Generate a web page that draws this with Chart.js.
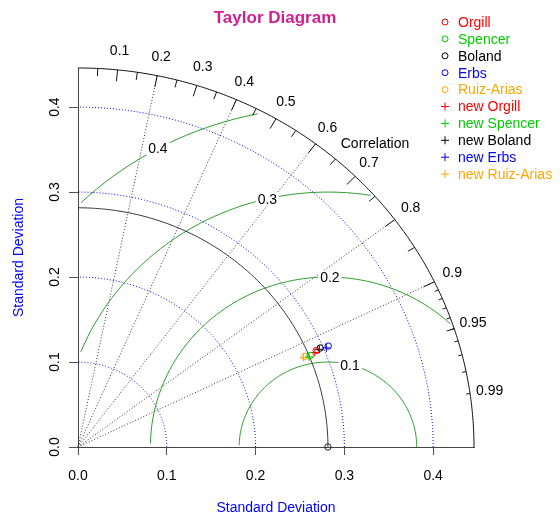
<!DOCTYPE html>
<html><head><meta charset="utf-8">
<script src="https://cdn.jsdelivr.net/npm/chart.js@4"></script>
<style>html,body{margin:0;padding:0;background:#fff}</style>
</head><body>
<canvas id="c" width="560" height="518"></canvas>
<script>
// ---- data ----
const MAXSD = 0.446;          // outer radius of the diagram
const REF_SD = 0.2815;        // standard deviation of the observations
const tickValues = [0, 0.1, 0.2, 0.3, 0.4];
const tickLabels = ['0.0', '0.1', '0.2', '0.3', '0.4'];
const corrLabels = [0.1, 0.2, 0.3, 0.4, 0.5, 0.6, 0.7, 0.8, 0.9, 0.95, 0.99];
const corrLines = [0.2, 0.4, 0.6, 0.8, 0.9];
const sdArcs = [0.1, 0.2, 0.3, 0.4];
const rmsContours = [0.1, 0.2, 0.3, 0.4];
const models = ['Orgill', 'Spencer', 'Boland', 'Erbs', 'Ruiz-Arias'];
const newModels = ['new Orgill', 'new Spencer', 'new Boland', 'new Erbs', 'new Ruiz-Arias'];
const modelColors = ['#ff0000', '#00cd00', '#000000', '#0000ff', '#ffa500'];
const oldSd = [0.2913, 0.2829, 0.2966, 0.3058, 0.2767];
const oldCor = [0.9210, 0.9247, 0.9197, 0.9215, 0.9230];
const newSd = [0.2890, 0.2810, 0.2950, 0.3030, 0.2750];
const newCor = [0.9230, 0.9260, 0.9210, 0.9230, 0.9240];

const FONT = '"Liberation Sans", Arial, Helvetica, sans-serif';

function polar(sd, cor) { return {x: sd * cor, y: sd * Math.sqrt(1 - cor * cor)}; }

const datasets = [];
models.forEach((m, i) => datasets.push({
  label: m, data: [polar(oldSd[i], oldCor[i])], pointStyle: 'circle', pointRadius: 3.2,
  borderColor: modelColors[i], backgroundColor: 'rgba(0,0,0,0)', pointBorderWidth: 1, showLine: false
}));
newModels.forEach((m, i) => datasets.push({
  label: m, data: [polar(newSd[i], newCor[i])], pointStyle: 'cross', pointRadius: 4,
  borderColor: modelColors[i], backgroundColor: modelColors[i], pointBorderWidth: 1, showLine: false
}));
datasets.push({
  label: 'reference', data: [{x: REF_SD, y: 0}], pointStyle: 'circle', pointRadius: 3.2,
  borderColor: '#222', backgroundColor: 'rgba(0,0,0,0)', pointBorderWidth: 1, clip: false
});

const taylorPlugin = {
  id: 'taylor',
  beforeDatasetsDraw(chart) {
    const ctx = chart.ctx, xs = chart.scales.x, ys = chart.scales.y;
    const P = (x, y) => [xs.getPixelForValue(x), ys.getPixelForValue(y)];
    const path = pts => { ctx.beginPath(); pts.forEach((p, k) => { const q = P(p[0], p[1]); k ? ctx.lineTo(q[0], q[1]) : ctx.moveTo(q[0], q[1]); }); ctx.stroke(); };
    const arc = (cx, r, a0, a1) => { const pts = []; const n = 200; for (let k = 0; k <= n; k++) { const a = a0 + (a1 - a0) * k / n; pts.push([cx + r * Math.cos(a), r * Math.sin(a)]); } path(pts); };
    ctx.save();
    ctx.lineWidth = 1;
    // correlation lines
    ctx.strokeStyle = '#333'; ctx.setLineDash([1, 2]);
    corrLines.forEach(c => path([[0, 0], [MAXSD * c, MAXSD * Math.sqrt(1 - c * c)]]));
    // sd arcs
    ctx.strokeStyle = '#0000ff'; ctx.setLineDash([1, 2]);
    sdArcs.forEach(r => arc(0, r, 0, Math.PI / 2));
    ctx.setLineDash([]);
    // rms contours
    const angles = []; for (let k = 0; k < 105; k++) angles.push(k * 0.03);
    const labelpos = [45, 53, 61, 70];
    ctx.strokeStyle = '#2e9e2e';
    const gammaLabels = [];
    rmsContours.forEach((g, gi) => {
      const xc = angles.map(a => Math.cos(a) * g + REF_SD);
      const yc = angles.map(a => Math.sin(a) * g);
      let end = xc.findIndex(v => v < 0); end = end >= 0 ? end - 1 : 104;
      let start = 0;
      for (let k = 0; k < xc.length; k++) if (xc[k] * xc[k] + yc[k] * yc[k] > MAXSD * MAXSD) start = k + 1;
      const pts = []; for (let k = start; k <= end; k++) pts.push([xc[k], yc[k]]);
      path(pts);
      const li = labelpos[gi] - 1;
      if (xc[li] > 0) gammaLabels.push([xc[li], yc[li], String(g)]);
    });
    ctx.font = '14px ' + FONT; ctx.textAlign = 'center'; ctx.textBaseline = 'middle';
    gammaLabels.forEach(([x, y, t]) => {
      const q = P(x, y); const w = ctx.measureText(t).width * 1.2, h = 13;
      ctx.fillStyle = '#fff'; ctx.fillRect(q[0] - w / 2, q[1] - h / 2, w, h);
      ctx.fillStyle = '#000'; ctx.fillText(t, q[0], q[1] + 1);
    });
    // reference sd arc
    ctx.strokeStyle = '#333';
    arc(0, REF_SD, 0, Math.PI / 2);
    // outer arc
    ctx.strokeStyle = '#111';
    arc(0, MAXSD, 0, Math.PI / 2);
    // ticks on outer arc
    const tick = (c, f) => path([[MAXSD * c, MAXSD * Math.sqrt(1 - c * c)], [f * MAXSD * c, f * MAXSD * Math.sqrt(1 - c * c)]]);
    for (let k = 1; k <= 9; k++) tick(k / 10, 0.97);
    for (let k = 0; k <= 9; k++) tick(0.05 + k / 10, 0.98);
    for (let k = 1; k <= 9; k++) tick(0.9 + k / 100, 0.99);
    // correlation labels
    ctx.fillStyle = '#000';
    corrLabels.forEach(c => {
      const q = P(1.05 * MAXSD * c, 1.05 * MAXSD * Math.sqrt(1 - c * c));
      ctx.fillText(String(c), q[0], q[1]);
    });
    const qc = P(0.75 * MAXSD, 0.8 * MAXSD);
    ctx.fillText('Correlation', qc[0], qc[1]);
    ctx.restore();
  },
  afterDraw(chart) {
    const ctx = chart.ctx, ys = chart.scales.y;
    ctx.save();
    // y tick labels (rotated, as in R)
    ctx.font = '14px ' + FONT; ctx.fillStyle = '#000'; ctx.textAlign = 'center'; ctx.textBaseline = 'middle';
    tickValues.forEach((v, i) => {
      const py = ys.getPixelForValue(v);
      ctx.save(); ctx.translate(55, py); ctx.rotate(-Math.PI / 2); ctx.fillText(tickLabels[i], 0, 0); ctx.restore();
    });
    // title
    ctx.font = 'bold 17px ' + FONT; ctx.fillStyle = '#d02090';
    ctx.fillText('Taylor Diagram', 275, 18);
    // legend
    const items = models.map((m, i) => [m, modelColors[i], 'o']).concat(newModels.map((m, i) => [m, modelColors[i], '+']));
    ctx.font = '14px ' + FONT; ctx.textAlign = 'left';
    items.forEach(([t, col, s], i) => {
      const y = 22 + i * 16.9;
      ctx.strokeStyle = col; ctx.fillStyle = col; ctx.lineWidth = 1;
      ctx.beginPath();
      if (s === 'o') { ctx.arc(445, y, 3, 0, Math.PI * 2); }
      else { ctx.moveTo(441, y); ctx.lineTo(449, y); ctx.moveTo(445, y - 4); ctx.lineTo(445, y + 4); }
      ctx.stroke();
      ctx.fillText(t, 458, y + 1);
    });
    ctx.restore();
  }
};

new Chart(document.getElementById('c'), {
  type: 'scatter',
  data: {datasets},
  options: {
    responsive: false, animation: false, devicePixelRatio: 1,
    layout: {padding: {left: 0, right: 86, top: 68, bottom: 0}},
    plugins: {legend: {display: false}, tooltip: {enabled: false}, title: {display: false}},
    scales: {
      x: {
        type: 'linear', min: 0, max: MAXSD,
        afterBuildTicks: s => { s.ticks = tickValues.map(v => ({value: v})); },
        afterFit: s => { s.height = 71; },
        ticks: {callback: (v, i) => tickLabels[i], font: {family: FONT, size: 14}, color: '#000', padding: 13, maxRotation: 0, autoSkip: false},
        grid: {drawOnChartArea: false, drawTicks: true, tickLength: 8, color: '#555'},
        border: {display: true, color: '#444', width: 1},
        title: {display: true, text: 'Standard Deviation', color: '#0000ff', font: {family: FONT, size: 14}, padding: {top: 0, bottom: 1}}
      },
      y: {
        type: 'linear', min: 0, max: MAXSD,
        afterBuildTicks: s => { s.ticks = tickValues.map(v => ({value: v})); },
        afterFit: s => { s.width = 78; },
        ticks: {display: false},
        grid: {drawOnChartArea: false, drawTicks: true, tickLength: 9, color: '#555'},
        border: {display: true, color: '#444', width: 1},
        title: {display: true, text: 'Standard Deviation', color: '#0000ff', font: {family: FONT, size: 14}, padding: {top: 11, bottom: 0}}
      }
    }
  },
  plugins: [taylorPlugin]
});
</script>
</body></html>
